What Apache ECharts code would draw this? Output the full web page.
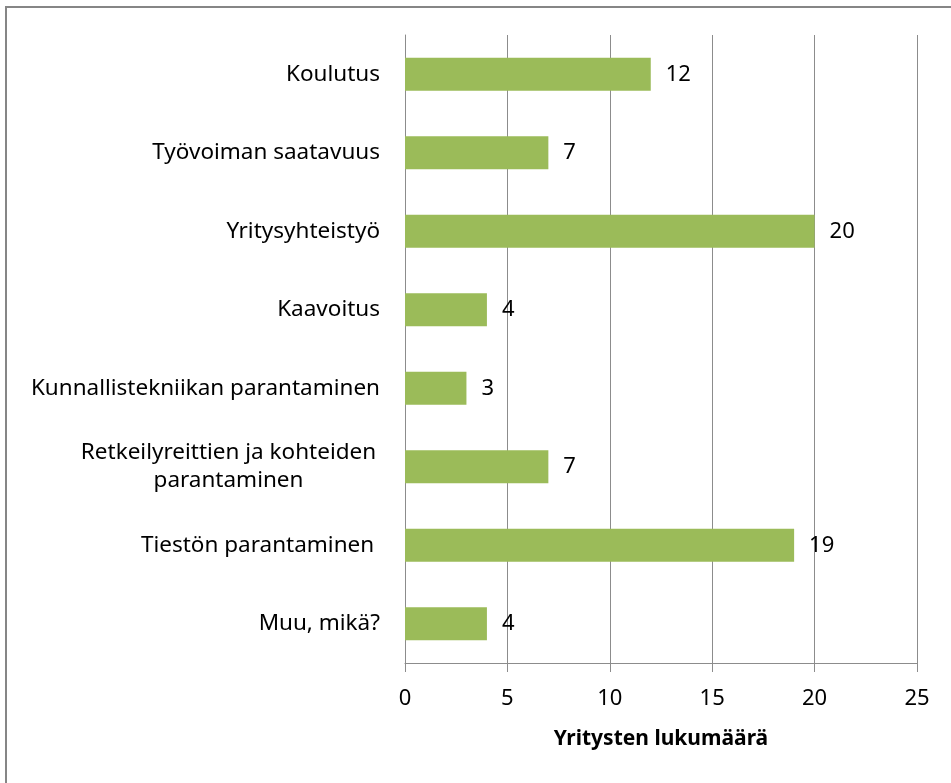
<!DOCTYPE html>
<html>
<head>
<meta charset="utf-8">
<script src="https://cdn.jsdelivr.net/npm/echarts@6/dist/echarts.min.js"></script>
<style>
  html,body{margin:0;padding:0;background:#fff;}
  #chart{width:951px;height:783px;}
</style>
</head>
<body>
<div id="chart"></div>
<script>
// kategoriat ylhäältä alas
var categories = [
  'Koulutus',
  'Työvoiman saatavuus',
  'Yritysyhteistyö',
  'Kaavoitus',
  'Kunnallistekniikan parantaminen',
  'Retkeilyreittien ja kohteiden\nparantaminen',
  'Tiestön parantaminen ',
  'Muu, mikä?'
];
var values = [12, 7, 20, 4, 3, 7, 19, 4];
var xTicks = [0, 5, 10, 15, 20, 25];
var axisTitle = 'Yritysten lukumäärä';

var font = 'Noto Sans';
var chart = echarts.init(document.getElementById('chart'));

chart.setOption({
  animation: false,
  backgroundColor: '#fff',
  graphic: [{
    type: 'rect',
    shape: {x: 6, y: 7, width: 1000, height: 1000},
    style: {fill: 'none', stroke: '#868686', lineWidth: 2},
    z: -1
  }],
  grid: {left: 405, right: 34, top: 35, bottom: 120},
  xAxis: {
    type: 'value',
    min: xTicks[0],
    max: xTicks[xTicks.length - 1],
    interval: 5,
    name: axisTitle,
    nameLocation: 'middle',
    nameGap: 66,
    nameTextStyle: {fontFamily: font, fontSize: 21, fontWeight: 'bold', color: '#000'},
    axisLine: {show: true, lineStyle: {color: '#8c8c8c', width: 1}},
    axisTick: {show: true, length: 9, lineStyle: {color: '#8c8c8c'}},
    axisLabel: {fontFamily: font, fontSize: 22, color: '#000', margin: 25},
    splitLine: {show: true, lineStyle: {color: '#8c8c8c', width: 1}}
  },
  yAxis: {
    type: 'category',
    inverse: true,
    data: categories,
    axisLine: {show: true, lineStyle: {color: '#8c8c8c', width: 1}},
    axisTick: {show: false},
    axisLabel: {
      fontFamily: font, fontSize: 22.5, color: '#000', margin: 25, lineHeight: 28,
      formatter: function (v) {
        if (v.indexOf('\n') >= 0) {
          return v.split('\n').map(function (s) { return '{c|' + s + '}'; }).join('\n');
        }
        return v;
      },
      rich: {
        c: {fontFamily: font, fontSize: 22.5, color: '#000', width: 303, align: 'center', lineHeight: 28}
      }
    },
    splitLine: {show: false}
  },
  series: [{
    type: 'bar',
    data: values,
    barWidth: 33,
    itemStyle: {color: '#9BBB59'},
    label: {
      show: true,
      position: 'right',
      distance: 15,
      fontFamily: font,
      fontSize: 22,
      color: '#000'
    }
  }]
});
</script>
</body>
</html>
